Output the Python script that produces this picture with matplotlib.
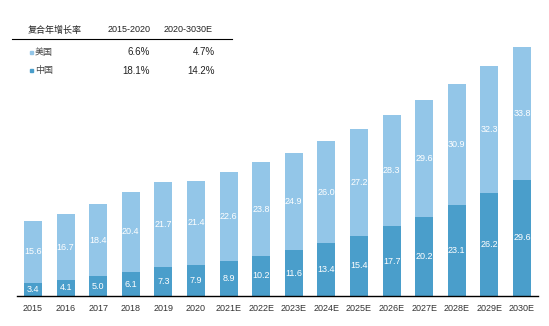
import matplotlib.pyplot as plt
import numpy as np

plt.rcParams['font.family'] = ['Noto Sans CJK SC', 'DejaVu Sans']

# 市场规模（中国 / 美国），堆叠柱状
years = ["2015", "2016", "2017", "2018", "2019", "2020", "2021E", "2022E",
         "2023E", "2024E", "2025E", "2026E", "2027E", "2028E", "2029E", "2030E"]
china = [3.4, 4.1, 5.0, 6.1, 7.3, 7.9, 8.9, 10.2, 11.6, 13.4, 15.4, 17.7, 20.2, 23.1, 26.2, 29.6]
usa = [15.6, 16.7, 18.4, 20.4, 21.7, 21.4, 22.6, 23.8, 24.9, 26.0, 27.2, 28.3, 29.6, 30.9, 32.3, 33.8]

# 复合年增长率表
cagr_header = ["复合年增长率", "2015-2020", "2020-3030E"]
cagr_rows = ["美国", "中国"]
cagr_2015_2020 = ["6.6%", "18.1%"]
cagr_2020_2030 = ["4.7%", "14.2%"]

c_light = "#93c6e8"
c_dark = "#4a9ecb"

fig = plt.figure(figsize=(5.49, 3.26), dpi=100)
ax = fig.add_axes([16.7 / 549, 30 / 326, 521.6 / 549, 275 / 326])

x = np.arange(len(years))
w = 0.55
ax.bar(x, china, w, color=c_dark)
ax.bar(x, usa, w, bottom=china, color=c_light)

for i in range(len(years)):
    ax.text(x[i], china[i] / 2, f"{china[i]:.1f}", ha="center", va="center",
            color="white", fontsize=6.5, family="Liberation Sans")
    ax.text(x[i], china[i] + usa[i] / 2, f"{usa[i]:.1f}", ha="center", va="center",
            color="white", fontsize=6.5, family="Liberation Sans")

ax.set_xlim(-0.5, 15.5)
ax.set_ylim(0, 70)
ax.set_xticks(x)
ax.set_xticklabels(years, fontsize=6.5, family="Liberation Sans", color="#333333")
ax.set_yticks([])
ax.tick_params(axis="x", length=0, pad=6)
for s in ["top", "right", "left"]:
    ax.spines[s].set_visible(False)
ax.spines["bottom"].set_color("black")
ax.spines["bottom"].set_linewidth(1.0)

# 表格文字，使用像素坐标换算到 figure 坐标
def fx(px):
    return px / 549

def fy(py):
    return 1 - py / 326

fig.text(fx(28), fy(30), cagr_header[0], fontsize=6.5, va="center", color="#222222")
fig.text(fx(129), fy(30), cagr_header[1], fontsize=6.5, va="center", ha="center",
         family="Liberation Sans", color="#222222")
fig.text(fx(188), fy(30), cagr_header[2], fontsize=6.5, va="center", ha="center",
         family="Liberation Sans", color="#222222")
fig.add_artist(plt.Line2D([fx(12), fx(232)], [fy(39), fy(39)], color="black", lw=0.8))

row_y = [52, 71]
row_c = [c_light, c_dark]
for i in range(len(cagr_rows)):
    fig.patches.append(plt.Rectangle((fx(30), fy(row_y[i]) - 1.5 / 326), 3 / 549, 3 / 326,
                                     transform=fig.transFigure, color=row_c[i]))
    fig.text(fx(35), fy(row_y[i]), cagr_rows[i], fontsize=6.5, va="center", color="#444444")
    fig.text(fx(150), fy(row_y[i]), cagr_2015_2020[i], fontsize=7, va="center", ha="right",
             family="Liberation Sans", color="#222222")
    fig.text(fx(215), fy(row_y[i]), cagr_2020_2030[i], fontsize=7, va="center", ha="right",
             family="Liberation Sans", color="#222222")

fig.savefig("out.png", dpi=100)
